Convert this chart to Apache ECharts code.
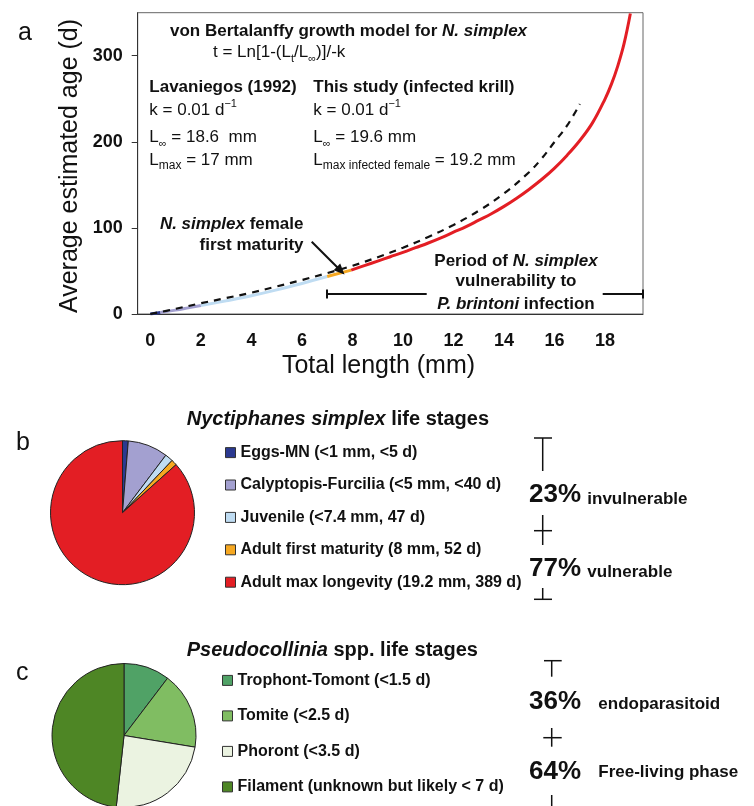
<!DOCTYPE html>
<html>
<head>
<meta charset="utf-8">
<script src="https://cdn.jsdelivr.net/npm/echarts@6/dist/echarts.min.js"></script>
<style>html,body{margin:0;padding:0;background:#fff}#c{width:754px;height:806px}</style>
</head>
<body>
<div id="c"></div>
<script>
// ---------- data ----------
const xTickLabels = ['0','1','2','3','4','5','6','7','8','9','10','11','12','13','14','15','16','17','18','19'];
const yTickValues = [0, 100, 200, 300];

// This study (infected krill): total length (mm) -> age (d)
const lengthStudy = [0, 0.4, 1, 1.5, 2, 3, 4, 5, 6, 7, 7.95, 8.5, 9, 9.5, 10, 10.5, 11, 11.5, 12, 12.5, 13, 13.5, 14, 14.5, 15, 15.5, 16, 16.5, 17, 17.5, 18, 18.25, 18.5, 18.75, 19];
const ageStudy    = [0, 1.8, 4.5, 7.1, 9.8, 15.3, 21.2, 28, 35.5, 43.5, 51, 56.5, 61.5, 66.5, 71.5, 77, 82.5, 88.5, 95, 101.5, 109, 116.5, 125, 134.5, 145, 156.5, 169.5, 184.5, 201.5, 222, 250, 267, 288, 314, 349];
// stage boundaries along the curve (mm) and colours
const stageBreaks = [0, 0.4, 2, 7, 7.95, 19];
const stageColors = ['#2b3990', '#a3a0d0', '#bfdcf2', '#f6a821', '#e31e24'];

// Lavaniegos (1992)
const lengthLav = [0, 1, 2, 3, 4, 5, 6, 7, 8, 9, 10, 11, 12, 13, 14, 15, 15.5, 16, 16.5, 17];
const ageLav    = [0, 6, 12.5, 18.5, 24.8, 32, 39.5, 47.5, 56, 66, 77, 89.5, 103.5, 120, 140, 165, 181, 200, 219, 244];

// Panel b
const stagesB = ['Eggs-MN (<1 mm, <5 d)', 'Calyptopis-Furcilia (<5 mm, <40 d)', 'Juvenile (<7.4 mm, 47 d)', 'Adult first maturity (8 mm, 52 d)', 'Adult max longevity (19.2 mm, 389 d)'];
const valuesB = [5, 35, 7, 5, 337];
const colorsB = ['#2b3990', '#a3a0d0', '#bfdcf2', '#f6a821', '#e31e24'];

// Panel c
const stagesC = ['Trophont-Tomont (<1.5 d)', 'Tomite (<2.5 d)', 'Phoront (<3.5 d)', 'Filament (unknown but likely < 7 d)'];
const valuesC = [1.5, 2.5, 3.5, 7];
const colorsC = ['#50a266', '#80bd62', '#ebf3e1', '#4e8625'];

// ---------- build ----------
const F = '"Liberation Sans", Arial, Helvetica, sans-serif';
const FN = '"Liberation Sans Narrow", "Liberation Sans", Arial, sans-serif';
const INK = '#111';

function seg(lo, hi) {
  const out = [];
  for (let i = 0; i < lengthStudy.length; i++) {
    if (lengthStudy[i] >= lo - 1e-9 && lengthStudy[i] <= hi + 1e-9) out.push([lengthStudy[i], ageStudy[i]]);
  }
  return out;
}
const lineSeries = [];
for (let s = 0; s < stageColors.length; s++) {
  lineSeries.push({
    type: 'line', xAxisIndex: 1, yAxisIndex: 0, data: seg(stageBreaks[s], stageBreaks[s + 1]),
    showSymbol: false, smooth: 0.4, silent: true, z: 3,
    lineStyle: { color: stageColors[s], width: 3, cap: 'butt' }
  });
}
lineSeries.push({
  type: 'line', xAxisIndex: 1, yAxisIndex: 0, data: lengthLav.map((l, i) => [l, ageLav[i]]),
  showSymbol: false, smooth: 0.4, silent: true, z: 4,
  lineStyle: { color: '#111', width: 2.2, type: [7, 6] }
});

function tok(size, weight, style, extra) {
  return Object.assign({ fontFamily: F, fontSize: size, fontWeight: weight || 'normal', fontStyle: style || 'normal', fill: INK }, extra || {});
}
const richBase = {
  b: tok(17, 'bold', 'normal', { lineHeight: 24 }),
  bi: tok(17, 'bold', 'italic', { lineHeight: 24 }),
  r: tok(17, 'normal', 'normal', { lineHeight: 24 }),
  sub: tok(11, 'normal', 'normal', { lineHeight: 9, verticalAlign: 'bottom' }),
  sub2: tok(12, 'normal', 'normal', { lineHeight: 10, verticalAlign: 'bottom' }),
  sup: tok(11, 'normal', 'normal', { lineHeight: 11, verticalAlign: 'top' }),
  t20: tok(20, 'bold', 'normal', { lineHeight: 24 }),
  t20i: tok(20, 'bold', 'italic', { lineHeight: 24 })
};
function T(x, y, text, align, extra) {
  return Object.assign({
    type: 'text', x: x, y: y, silent: true, z: 10,
    style: { text: text, rich: richBase, fontFamily: F, fontSize: 17, fill: INK, align: align || 'left', verticalAlign: 'middle' }
  }, extra || {});
}
function P(x, y, text, size, weight, align, rot) {
  const o = {
    type: 'text', x: x, y: y, silent: true, z: 10,
    style: { text: text, fontFamily: F, fontSize: size, fontWeight: weight || 'normal', fill: INK, align: align || 'left', verticalAlign: 'middle' }
  };
  if (rot) o.rotation = rot;
  return o;
}
function L(x1, y1, x2, y2, w) {
  return { type: 'line', silent: true, z: 10, shape: { x1: x1, y1: y1, x2: x2, y2: y2 }, style: { stroke: INK, lineWidth: w || 1.5 } };
}

const graphics = [
  P(18, 33, 'a', 25, 'normal'),
  P(16, 443, 'b', 25, 'normal'),
  P(16, 673, 'c', 25, 'normal'),
  P(70, 166, 'Average estimated age (d)', 25, 'normal', 'center', Math.PI / 2),
  P(378.5, 366.5, 'Total length (mm)', 25, 'normal', 'center'),

  T(170, 31.7, '{b|von Bertalanffy growth model for }{bi|N. simplex}'),
  T(213, 52, '{r|t = Ln[1-(L}{sub|t}{r|/L}{sub|∞}{r|)]/-k}'),
  T(149.3, 87.5, '{b|Lavaniegos (1992)}'),
  T(313.3, 87.5, '{b|This study (infected krill)}'),
  T(149.3, 110, '{r|k = 0.01 d}{sup|−1}'),
  T(313.3, 110, '{r|k = 0.01 d}{sup|−1}'),
  T(149.3, 137.5, '{r|L}{sub|∞}{r| = 18.6  mm}'),
  T(313.3, 137.5, '{r|L}{sub|∞}{r| = 19.6 mm}'),
  T(149.3, 160, '{r|L}{sub2|max}{r| = 17 mm}'),
  T(313.3, 160, '{r|L}{sub2|max infected female}{r| = 19.2 mm}'),

  T(303.5, 224.7, '{bi|N. simplex}{b| female}', 'right'),
  T(303.5, 245.5, '{b|first maturity}', 'right'),
  L(311.7, 241.7, 337.5, 267.5, 2),
  { type: 'polygon', silent: true, z: 10, shape: { points: [[344.5, 274.5], [333.6, 270.2], [340.2, 263.6]] }, style: { fill: INK } },

  T(516, 261.7, '{b|Period of }{bi|N. simplex}', 'center'),
  T(516, 281.7, '{b|vulnerability to}', 'center'),
  T(516, 304.2, '{bi|P. brintoni}{b| infection}', 'center'),
  L(327, 294, 426.7, 294, 2),
  L(602.7, 294, 643, 294, 2),
  L(327, 289.5, 327, 298.5, 2),
  L(643, 289.5, 643, 298.5, 2),

  T(186.7, 419.3, '{t20i|Nyctiphanes simplex}{t20| life stages}'),
  T(186.7, 650, '{t20i|Pseudocollinia}{t20| spp. life stages}'),

  // bracket b
  L(534, 438, 552, 438), L(542.7, 438, 542.7, 471),
  L(542.7, 515, 542.7, 545), L(534, 530.7, 552, 530.7),
  L(542.7, 588, 542.7, 599.3), L(534, 599.3, 552, 599.3),
  P(529, 495, '23%', 26, 'bold'),
  P(587.3, 499.5, 'invulnerable', 17, 'bold'),
  P(529, 569, '77%', 26, 'bold'),
  P(587.3, 572.5, 'vulnerable', 17, 'bold'),

  // bracket c
  L(544, 660.7, 561.7, 660.7), L(551.7, 660.7, 551.7, 676.7),
  L(551.7, 728, 551.7, 746.7), L(543.3, 737.7, 561.7, 737.7),
  L(551.7, 795, 551.7, 806),
  P(529, 701.5, '36%', 26, 'bold'),
  P(598.3, 704, 'endoparasitoid', 17, 'bold'),
  P(529, 771.5, '64%', 26, 'bold'),
  P(598.3, 772.3, 'Free-living phase', 17, 'bold')
];

const legendCommon = {
  orient: 'vertical', icon: 'rect', itemWidth: 10, itemHeight: 10, padding: 0, selectedMode: false,
  itemStyle: { borderColor: '#333', borderWidth: 1 },
  textStyle: { fontFamily: F, fontSize: 16, fontWeight: 'bold', color: INK }
};

const option = {
  animation: false,
  backgroundColor: '#ffffff',
  grid: { left: 137.7, top: 12.7, width: 505.3, height: 301.3, show: true, borderColor: '#666', borderWidth: 1, backgroundColor: 'transparent' },
  xAxis: [
    {
      type: 'category', data: xTickLabels, boundaryGap: true, position: 'bottom',
      axisLine: { lineStyle: { color: '#333', width: 1 } },
      axisTick: { interval: 0, length: 6, lineStyle: { color: '#333' } },
      axisLabel: { interval: 1, fontFamily: FN, fontWeight: 'bold', fontSize: 18, color: INK, margin: 18 },
      splitLine: { show: false }
    },
    { type: 'value', min: -0.5, max: 19.5, show: false }
  ],
  yAxis: {
    type: 'value', min: 0, max: 350, interval: 100,
    axisLine: { show: true, onZero: false, lineStyle: { color: '#333', width: 1 } },
    axisTick: { show: true, length: 6, lineStyle: { color: '#333' }, customValues: yTickValues },
    axisLabel: { fontFamily: FN, fontWeight: 'bold', fontSize: 18, color: INK, margin: 15, customValues: yTickValues },
    splitLine: { show: false }
  },
  legend: [
    Object.assign({}, legendCommon, { left: 225, top: 444.6, itemGap: 16.4, data: stagesB }),
    Object.assign({}, legendCommon, { left: 222, top: 672.4, itemGap: 19.5, height: 130, data: stagesC })
  ],
  series: lineSeries.concat([
    {
      type: 'pie', center: [122.5, 512.7], radius: 72, startAngle: 90, clockwise: true, silent: true,
      label: { show: false }, labelLine: { show: false }, emphasis: { disabled: true },
      itemStyle: { borderColor: '#222', borderWidth: 1 },
      data: stagesB.map((n, i) => ({ name: n, value: valuesB[i], itemStyle: { color: colorsB[i] } }))
    },
    {
      type: 'pie', center: [124, 735.5], radius: 72, startAngle: 90, clockwise: true, silent: true,
      label: { show: false }, labelLine: { show: false }, emphasis: { disabled: true },
      itemStyle: { borderColor: '#222', borderWidth: 1 },
      data: stagesC.map((n, i) => ({ name: n, value: valuesC[i], itemStyle: { color: colorsC[i] } }))
    }
  ]),
  graphic: graphics
};

const chart = echarts.init(document.getElementById('c'), null, { renderer: 'canvas' });
chart.setOption(option);
</script>
</body>
</html>
